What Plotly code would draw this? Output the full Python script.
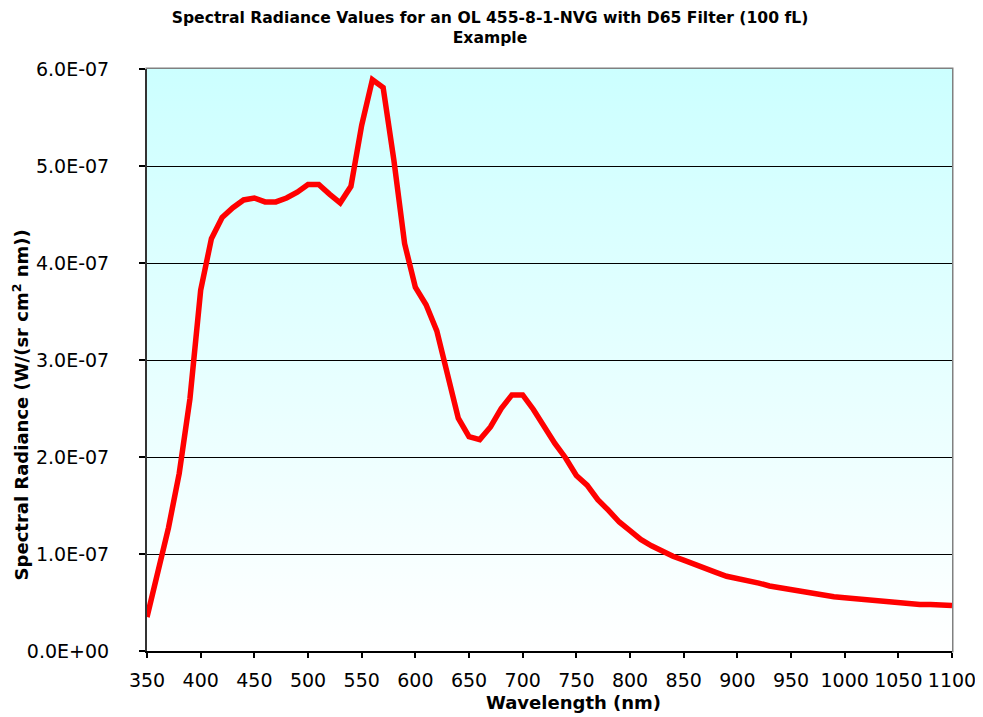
import base64
import plotly.graph_objects as go

# ---- data ----
wavelength_nm = list(range(350, 1101, 10))
radiance_e7 = [
    0.35, 0.80, 1.27, 1.83, 2.60, 3.72, 4.25, 4.47, 4.57, 4.65,
    4.67, 4.63, 4.63, 4.67, 4.73, 4.81, 4.81, 4.71, 4.62, 4.79,
    5.42, 5.89, 5.81, 5.06, 4.20, 3.75, 3.57, 3.30, 2.86, 2.40,
    2.21, 2.18, 2.31, 2.50, 2.64, 2.64, 2.49, 2.31, 2.14, 1.99,
    1.81, 1.71, 1.56, 1.45, 1.33, 1.24, 1.15, 1.085, 1.03, 0.976,
    0.936, 0.89, 0.85, 0.81, 0.77, 0.75, 0.72, 0.70, 0.67, 0.65,
    0.63, 0.61, 0.60, 0.58, 0.56, 0.55, 0.54, 0.52, 0.51, 0.50,
    0.50, 0.49, 0.48, 0.48, 0.47, 0.47,
]
radiance = [v * 1e-7 for v in radiance_e7]

x_tickvals = list(range(350, 1101, 50))
x_ticktext = [str(v) for v in x_tickvals]
y_tickvals = [i * 1e-7 for i in range(7)]
y_ticktext = ["0.0E+00", "1.0E-07", "2.0E-07", "3.0E-07", "4.0E-07", "5.0E-07", "6.0E-07"]

title_line1 = "Spectral Radiance Values for an OL 455-8-1-NVG with D65 Filter (100 fL)"
title_line2 = "Example"
x_title = "Wavelength (nm)"
y_title = "Spectral Radiance (W/(sr cm<sup>2</sup> nm))"

# ---- background gradient (cyan top -> white bottom) ----
svg = (
    '<svg xmlns="http://www.w3.org/2000/svg" width="100" height="100" preserveAspectRatio="none">'
    '<defs><linearGradient id="g" x1="0" y1="0" x2="0" y2="1">'
    '<stop offset="0" stop-color="#CCFFFF"/><stop offset="1" stop-color="#FFFFFF"/>'
    '</linearGradient></defs><rect width="100" height="100" fill="url(#g)"/></svg>'
)
svg_uri = "data:image/svg+xml;base64," + base64.b64encode(svg.encode()).decode()

FONT = "DejaVu Sans, Verdana, sans-serif"
W, H = 975, 709

fig = go.Figure()
fig.add_trace(go.Scatter(
    x=wavelength_nm, y=radiance, mode="lines",
    line=dict(color="#FF0000", width=5.5),
    hoverinfo="x+y", showlegend=False,
))

fig.update_layout(
    width=W, height=H,
    margin=dict(l=139, r=31, t=61, b=66),
    paper_bgcolor="white",
    plot_bgcolor="rgba(0,0,0,0)",
    font=dict(family=FONT, color="black"),
    title=dict(
        text="<b>" + title_line1 + "</b><br><b>" + title_line2 + "</b>",
        x=(490 - 8) / W, xanchor="center", xref="container",
        y=1 - 15 / H, yanchor="middle", yref="container",
        font=dict(size=15.6, family=FONT, color="black"),
    ),
    images=[dict(
        source=svg_uri, xref="x domain", yref="y domain",
        x=0, y=1, sizex=1, sizey=1, xanchor="left", yanchor="top",
        sizing="stretch", layer="below",
    )],
    shapes=[dict(
        type="rect", xref="x domain", yref="y domain",
        x0=0, x1=1, y0=0, y1=1,
        line=dict(color="#808080", width=3), layer="below",
    )],
    annotations=[
        dict(
            text="<b>" + x_title + "</b>", xref="x domain", yref="y domain",
            x=0.530, y=-0.089, xanchor="center", yanchor="middle",
            showarrow=False, font=dict(size=18, family=FONT, color="black"),
        ),
        dict(
            text="<b>" + y_title + "</b>", xref="x domain", yref="y domain",
            x=-0.157, y=0.423, xanchor="center", yanchor="middle", textangle=-90,
            showarrow=False, font=dict(size=18, family=FONT, color="black"),
        ),
    ],
)

fig.update_xaxes(
    range=[350, 1100],
    tickmode="array", tickvals=x_tickvals, ticktext=x_ticktext,
    ticks="outside", ticklen=5, tickwidth=1.5, tickcolor="black",
    showline=True, linecolor="black", linewidth=2,
    showgrid=False, zeroline=False, automargin=False,
    ticklabelstandoff=6, ticklabeloverflow="allow",
    tickfont=dict(size=19, family=FONT, color="black"),
)
fig.update_yaxes(
    range=[0, 6e-7],
    tickmode="array", tickvals=y_tickvals, ticktext=y_ticktext,
    ticks="outside", ticklen=6, tickwidth=1.5, tickcolor="black",
    showline=True, linecolor="#333333", linewidth=2,
    showgrid=True, gridcolor="black", gridwidth=1,
    zeroline=False, automargin=False,
    ticklabelstandoff=26, ticklabeloverflow="allow",
    tickfont=dict(size=19, family=FONT, color="black"),
)

fig.write_html("out.html")
